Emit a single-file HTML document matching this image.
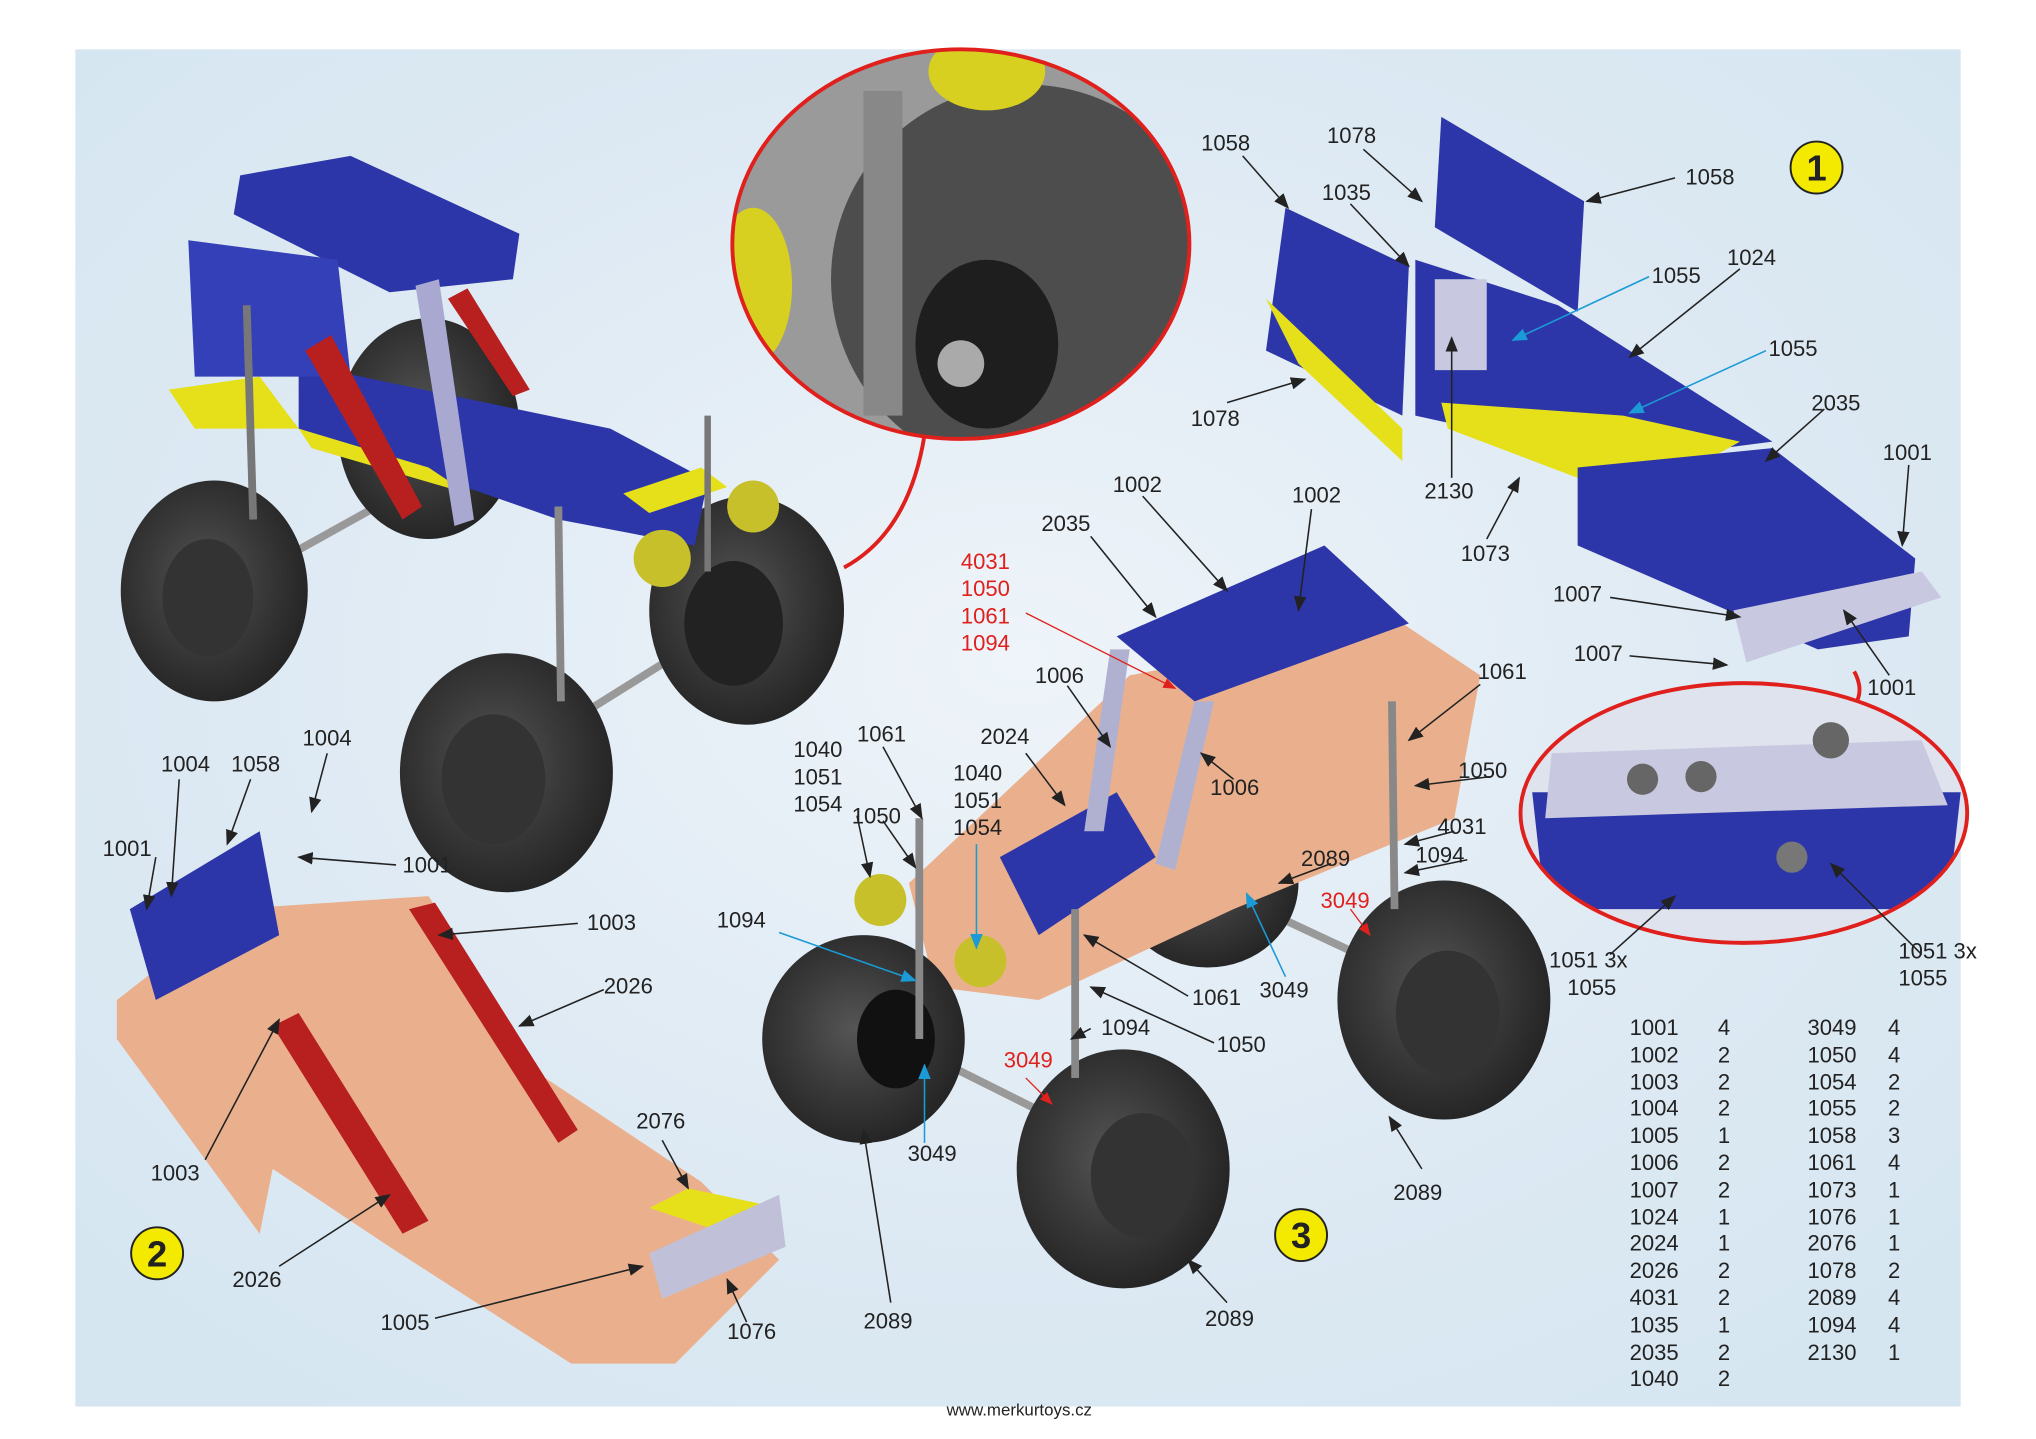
<!DOCTYPE html>
<html><head><meta charset="utf-8"><style>
html,body{margin:0;padding:0;background:#fff;}
svg{display:block;}
text{font-family:"Liberation Sans",Arial,sans-serif;font-size:17px;fill:#222;}
.r{fill:#e0201c;}
</style></head><body>
<svg width="2036" height="1439" viewBox="0 0 1568 1108" preserveAspectRatio="none" xmlns="http://www.w3.org/2000/svg">
<defs>
<radialGradient id="bg" cx="0.5" cy="0.45" r="0.7">
<stop offset="0" stop-color="#eef4f9"/><stop offset="0.6" stop-color="#dde9f3"/><stop offset="1" stop-color="#d5e6f1"/></radialGradient>
<radialGradient id="tire" cx="0.45" cy="0.45" r="0.6"><stop offset="0" stop-color="#555"/><stop offset="0.5" stop-color="#3a3a3a"/><stop offset="1" stop-color="#222"/></radialGradient>
<clipPath id="c1"><ellipse cx="740" cy="188" rx="176" ry="150"/></clipPath>
<clipPath id="c2"><ellipse cx="1343" cy="626" rx="172" ry="100"/></clipPath>
<marker id="a" markerWidth="10" markerHeight="8" refX="9" refY="4" orient="auto"><path d="M0,0 L10,4 L0,8z" fill="#222"/></marker>
<marker id="ab" markerWidth="10" markerHeight="8" refX="9" refY="4" orient="auto"><path d="M0,0 L10,4 L0,8z" fill="#1a9ad6"/></marker>
<marker id="ar" markerWidth="10" markerHeight="8" refX="9" refY="4" orient="auto"><path d="M0,0 L10,4 L0,8z" fill="#e0201c"/></marker>
</defs>
<rect width="1568" height="1108" fill="#fff"/>
<rect x="58" y="38" width="1452" height="1045" fill="url(#bg)"/>

<!-- top-left vehicle -->
<g>
<line x1="200" y1="440" x2="380" y2="340" stroke="#999" stroke-width="6"/>
<line x1="400" y1="580" x2="560" y2="480" stroke="#999" stroke-width="6"/>
<ellipse cx="330" cy="330" rx="70" ry="85" fill="url(#tire)"/>
<ellipse cx="165" cy="455" rx="72" ry="85" fill="url(#tire)"/>
<ellipse cx="160" cy="460" rx="35" ry="45" fill="#333"/>
<ellipse cx="575" cy="470" rx="75" ry="88" fill="url(#tire)"/>
<ellipse cx="565" cy="480" rx="38" ry="48" fill="#222"/>
<ellipse cx="390" cy="595" rx="82" ry="92" fill="url(#tire)"/>
<ellipse cx="380" cy="600" rx="40" ry="50" fill="#333"/>
<polygon points="130,300 200,290 230,330 150,330" fill="#e5e01a"/>
<polygon points="230,280 470,330 545,370 535,420 430,400 230,330" fill="#2d36a8"/>
<polygon points="230,330 330,360 360,380 240,345" fill="#e5e01a"/>
<polygon points="480,380 540,360 560,375 500,395" fill="#e5e01a"/>
<polygon points="185,135 270,120 400,180 395,215 300,225 180,165" fill="#2d36a8"/>
<polygon points="145,185 260,200 270,290 150,290" fill="#3440b8"/>
<polygon points="320,220 338,215 365,400 350,405" fill="#a8a8d0"/>
<polygon points="235,270 255,258 325,390 310,400" fill="#b82020"/>
<polygon points="345,230 360,222 408,300 395,305" fill="#b82020"/>
<circle cx="580" cy="390" r="20" fill="#c8c02a"/><circle cx="510" cy="430" r="22" fill="#c8c02a"/>
<line x1="190" y1="235" x2="195" y2="400" stroke="#777" stroke-width="6"/>
<line x1="545" y1="320" x2="545" y2="440" stroke="#777" stroke-width="5"/>
<line x1="430" y1="390" x2="432" y2="540" stroke="#888" stroke-width="6"/>
</g>
<!-- zoom circle top -->
<g clip-path="url(#c1)">
<rect x="560" y="30" width="360" height="320" fill="#9a9a9a"/>
<ellipse cx="790" cy="215" rx="150" ry="150" fill="#4d4d4d"/>
<ellipse cx="760" cy="265" rx="55" ry="65" fill="#1e1e1e"/>
<circle cx="740" cy="280" r="18" fill="#aaa"/>
<ellipse cx="580" cy="220" rx="30" ry="60" fill="#d8d020"/>
<ellipse cx="760" cy="55" rx="45" ry="30" fill="#d8d020"/>
<rect x="665" y="70" width="30" height="250" fill="#888"/>
</g>
<ellipse cx="740" cy="188" rx="176" ry="150" fill="none" stroke="#e0201c" stroke-width="3"/>
<path d="M712,335 Q700,410 650,437" fill="none" stroke="#e0201c" stroke-width="3"/>

<!-- model 1 -->
<polygon points="990,160 1085,205 1080,320 975,270" fill="#2d36a8"/>
<polygon points="1110,90 1220,155 1215,240 1105,175" fill="#2d36a8"/>
<polygon points="975,230 1080,330 1080,355 1000,280" fill="#e5e01a"/>
<polygon points="1090,200 1200,235 1365,340 1250,355 1090,320" fill="#2d36a8"/>
<polygon points="1110,310 1250,320 1340,340 1260,385 1115,330" fill="#e5e01a"/>
<polygon points="1215,360 1365,345 1475,430 1470,490 1400,500 1215,420" fill="#2d36a8"/>
<polygon points="1335,470 1480,440 1495,460 1345,510" fill="#c8c8e0"/>
<rect x="1105" y="215" width="40" height="70" fill="#c8c8e0"/>
<g clip-path="url(#c2)">
<rect x="1170" y="520" width="350" height="210" fill="#dfe3ee"/>
<polygon points="1180,610 1510,610 1500,700 1190,700" fill="#2d36a8"/>
<polygon points="1195,580 1480,570 1500,620 1190,630" fill="#c8c8e0"/>
<circle cx="1265" cy="600" r="12" fill="#666"/><circle cx="1310" cy="598" r="12" fill="#666"/>
<circle cx="1410" cy="570" r="14" fill="#666"/><circle cx="1380" cy="660" r="12" fill="#777"/>
</g>
<ellipse cx="1343" cy="626" rx="172" ry="100" fill="none" stroke="#e0201c" stroke-width="3"/>
<path d="M1428,517 Q1435,530 1430,540" fill="none" stroke="#e0201c" stroke-width="3"/>

<!-- model 2 -->
<polygon points="90,770 180,700 330,690 420,830 540,910 600,970 520,1050 440,1050 300,960 210,900 200,950 90,800" fill="#eab08e"/>
<polygon points="100,700 200,640 215,720 120,770" fill="#2d36a8"/>
<polygon points="210,790 230,780 330,940 310,950" fill="#b82020"/>
<polygon points="315,700 335,695 445,870 430,880" fill="#b82020"/>
<polygon points="500,930 530,915 600,930 560,950" fill="#e5e01a"/>
<polygon points="500,965 600,920 605,960 510,1000" fill="#c0c0d8"/>

<!-- model 3 -->
<line x1="690" y1="800" x2="850" y2="880" stroke="#999" stroke-width="6"/>
<line x1="950" y1="690" x2="1100" y2="760" stroke="#999" stroke-width="6"/>
<ellipse cx="930" cy="680" rx="70" ry="65" fill="url(#tire)"/>
<polygon points="700,680 870,520 1080,480 1140,520 1120,630 950,700 800,770 720,760" fill="#eab08e"/>
<polygon points="860,490 1020,420 1085,480 920,540" fill="#2d36a8"/>
<polygon points="770,660 860,610 890,660 800,720" fill="#2d36a8"/>
<polygon points="855,500 870,500 850,640 835,640" fill="#b0b0d0"/>
<polygon points="920,540 935,540 905,670 890,665" fill="#b0b0d0"/>
<ellipse cx="665" cy="800" rx="78" ry="80" fill="url(#tire)"/>
<ellipse cx="690" cy="800" rx="30" ry="38" fill="#111"/>
<ellipse cx="865" cy="900" rx="82" ry="92" fill="url(#tire)"/>
<ellipse cx="880" cy="905" rx="40" ry="48" fill="#333"/>
<ellipse cx="1112" cy="770" rx="82" ry="92" fill="url(#tire)"/>
<ellipse cx="1115" cy="780" rx="40" ry="48" fill="#333"/>
<circle cx="678" cy="693" r="20" fill="#c8c02a"/><circle cx="755" cy="740" r="20" fill="#c8c02a"/>
<line x1="1072" y1="540" x2="1074" y2="700" stroke="#888" stroke-width="6"/>
<line x1="708" y1="630" x2="708" y2="800" stroke="#888" stroke-width="6"/>
<line x1="828" y1="700" x2="828" y2="830" stroke="#888" stroke-width="6"/>

<!-- number circles -->
<circle cx="1399" cy="129" r="20" fill="#f4ea00" stroke="#222" stroke-width="1.5"/><text x="1399" y="139" text-anchor="middle" style="font-size:28px;font-weight:bold">1</text>
<circle cx="121" cy="965" r="20" fill="#f4ea00" stroke="#222" stroke-width="1.5"/><text x="121" y="975" text-anchor="middle" style="font-size:28px;font-weight:bold">2</text>
<circle cx="1002" cy="951" r="20" fill="#f4ea00" stroke="#222" stroke-width="1.5"/><text x="1002" y="961" text-anchor="middle" style="font-size:28px;font-weight:bold">3</text>

<!-- leaders -->
<g stroke="#222" stroke-width="1.2" fill="none" marker-end="url(#a)">
<line x1="957" y1="120" x2="992" y2="160"/><line x1="1050" y1="115" x2="1095" y2="155"/>
<line x1="1290" y1="137" x2="1222" y2="155"/><line x1="1040" y1="157" x2="1085" y2="205"/>
<line x1="1340" y1="207" x2="1255" y2="275"/><line x1="1405" y1="315" x2="1360" y2="355"/>
<line x1="945" y1="310" x2="1005" y2="292"/><line x1="1118" y1="368" x2="1118" y2="260"/>
<line x1="1145" y1="415" x2="1170" y2="368"/><line x1="1470" y1="358" x2="1465" y2="420"/>
<line x1="1240" y1="460" x2="1340" y2="475"/><line x1="1255" y1="505" x2="1330" y2="512"/>
<line x1="1455" y1="520" x2="1420" y2="470"/>
<line x1="880" y1="382" x2="945" y2="455"/><line x1="1010" y1="392" x2="1000" y2="470"/>
<line x1="840" y1="413" x2="890" y2="475"/><line x1="822" y1="528" x2="855" y2="575"/>
<line x1="950" y1="600" x2="925" y2="580"/><line x1="1140" y1="527" x2="1085" y2="570"/>
<line x1="680" y1="575" x2="710" y2="630"/><line x1="660" y1="628" x2="670" y2="675"/>
<line x1="680" y1="632" x2="705" y2="668"/><line x1="790" y1="580" x2="820" y2="620"/>
<line x1="1148" y1="598" x2="1090" y2="605"/><line x1="1120" y1="640" x2="1082" y2="650"/>
<line x1="1130" y1="662" x2="1082" y2="672"/><line x1="1025" y1="665" x2="985" y2="680"/>
<line x1="915" y1="767" x2="835" y2="720"/><line x1="935" y1="803" x2="840" y2="760"/>
<line x1="840" y1="792" x2="825" y2="800"/><line x1="1095" y1="900" x2="1070" y2="860"/>
<line x1="945" y1="1003" x2="915" y2="970"/><line x1="686" y1="1003" x2="665" y2="870"/>
<line x1="120" y1="660" x2="113" y2="700"/><line x1="138" y1="600" x2="132" y2="690"/>
<line x1="193" y1="600" x2="175" y2="650"/><line x1="252" y1="580" x2="240" y2="625"/>
<line x1="305" y1="666" x2="230" y2="660"/><line x1="445" y1="711" x2="338" y2="720"/>
<line x1="465" y1="762" x2="400" y2="790"/><line x1="158" y1="893" x2="215" y2="785"/>
<line x1="215" y1="975" x2="300" y2="920"/><line x1="335" y1="1015" x2="495" y2="975"/>
<line x1="510" y1="878" x2="530" y2="915"/><line x1="575" y1="1018" x2="560" y2="985"/>
<line x1="1240" y1="735" x2="1290" y2="690"/><line x1="1480" y1="735" x2="1410" y2="665"/>
</g>
<g stroke="#1a9ad6" stroke-width="1.2" marker-end="url(#ab)">
<line x1="1270" y1="213" x2="1165" y2="262"/><line x1="1360" y1="270" x2="1255" y2="318"/>
<line x1="600" y1="718" x2="705" y2="755"/><line x1="752" y1="650" x2="752" y2="730"/>
<line x1="712" y1="880" x2="712" y2="820"/><line x1="990" y1="752" x2="960" y2="688"/>
</g>
<g stroke="#e0201c" stroke-width="1" marker-end="url(#ar)">
<line x1="790" y1="472" x2="905" y2="530"/><line x1="1040" y1="700" x2="1055" y2="720"/>
<line x1="790" y1="830" x2="810" y2="850"/>
</g>

<!-- labels -->
<text x="925" y="116">1058</text><text x="1022" y="110">1078</text><text x="1298" y="142">1058</text>
<text x="1018" y="154">1035</text><text x="1272" y="218">1055</text><text x="1330" y="204">1024</text>
<text x="1362" y="274">1055</text><text x="1395" y="316">2035</text><text x="917" y="328">1078</text>
<text x="1097" y="384">2130</text><text x="1125" y="432">1073</text><text x="1450" y="354">1001</text>
<text x="1196" y="463">1007</text><text x="1212" y="509">1007</text><text x="1438" y="535">1001</text>
<text x="857" y="379">1002</text><text x="995" y="387">1002</text><text x="802" y="409">2035</text>
<text class="r" x="740" y="438">4031</text><text class="r" x="740" y="459">1050</text>
<text class="r" x="740" y="480">1061</text><text class="r" x="740" y="501">1094</text>
<text x="797" y="526">1006</text><text x="932" y="612">1006</text><text x="1138" y="523">1061</text>
<text x="660" y="571">1061</text><text x="755" y="573">2024</text>
<text x="611" y="583">1040</text><text x="611" y="604">1051</text><text x="611" y="625">1054</text>
<text x="656" y="634">1050</text>
<text x="734" y="601">1040</text><text x="734" y="622">1051</text><text x="734" y="643">1054</text>
<text x="1123" y="599">1050</text><text x="1107" y="642">4031</text><text x="1090" y="664">1094</text>
<text x="1002" y="667">2089</text><text class="r" x="1017" y="699">3049</text>
<text x="552" y="714">1094</text><text x="918" y="774">1061</text><text x="970" y="768">3049</text>
<text x="848" y="797">1094</text><text x="937" y="810">1050</text><text class="r" x="773" y="822">3049</text>
<text x="699" y="894">3049</text><text x="1073" y="924">2089</text><text x="928" y="1021">2089</text>
<text x="665" y="1023">2089</text>
<text x="1193" y="745">1051 3x</text><text x="1207" y="766">1055</text>
<text x="1462" y="738">1051 3x</text><text x="1462" y="759">1055</text>
<text x="124" y="594">1004</text><text x="178" y="594">1058</text><text x="233" y="574">1004</text>
<text x="79" y="659">1001</text><text x="310" y="672">1001</text><text x="452" y="716">1003</text>
<text x="465" y="765">2026</text><text x="116" y="909">1003</text><text x="490" y="869">2076</text>
<text x="179" y="991">2026</text><text x="293" y="1024">1005</text><text x="560" y="1031">1076</text>

<!-- table -->
<g style="font-size:18px">
<text x="1255" y="797">1001</text><text x="1323" y="797">4</text>
<text x="1255" y="818">1002</text><text x="1323" y="818">2</text>
<text x="1255" y="839">1003</text><text x="1323" y="839">2</text>
<text x="1255" y="859">1004</text><text x="1323" y="859">2</text>
<text x="1255" y="880">1005</text><text x="1323" y="880">1</text>
<text x="1255" y="901">1006</text><text x="1323" y="901">2</text>
<text x="1255" y="922">1007</text><text x="1323" y="922">2</text>
<text x="1255" y="943">1024</text><text x="1323" y="943">1</text>
<text x="1255" y="963">2024</text><text x="1323" y="963">1</text>
<text x="1255" y="984">2026</text><text x="1323" y="984">2</text>
<text x="1255" y="1005">4031</text><text x="1323" y="1005">2</text>
<text x="1255" y="1026">1035</text><text x="1323" y="1026">1</text>
<text x="1255" y="1047">2035</text><text x="1323" y="1047">2</text>
<text x="1255" y="1067">1040</text><text x="1323" y="1067">2</text>
<text x="1392" y="797">3049</text><text x="1454" y="797">4</text>
<text x="1392" y="818">1050</text><text x="1454" y="818">4</text>
<text x="1392" y="839">1054</text><text x="1454" y="839">2</text>
<text x="1392" y="859">1055</text><text x="1454" y="859">2</text>
<text x="1392" y="880">1058</text><text x="1454" y="880">3</text>
<text x="1392" y="901">1061</text><text x="1454" y="901">4</text>
<text x="1392" y="922">1073</text><text x="1454" y="922">1</text>
<text x="1392" y="943">1076</text><text x="1454" y="943">1</text>
<text x="1392" y="963">2076</text><text x="1454" y="963">1</text>
<text x="1392" y="984">1078</text><text x="1454" y="984">2</text>
<text x="1392" y="1005">2089</text><text x="1454" y="1005">4</text>
<text x="1392" y="1026">1094</text><text x="1454" y="1026">4</text>
<text x="1392" y="1047">2130</text><text x="1454" y="1047">1</text>
</g>
<text x="785" y="1090" text-anchor="middle" style="font-size:13px">www.merkurtoys.cz</text>
</svg>
</body></html>
